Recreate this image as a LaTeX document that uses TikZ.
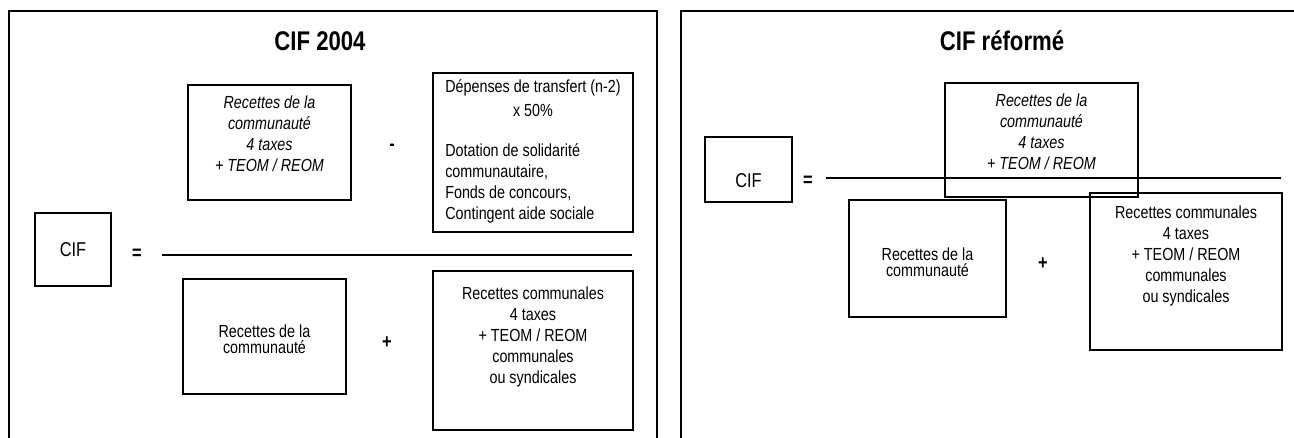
\documentclass[tikz,border=0pt]{standalone}
\usepackage{fontspec}
\setmainfont{Liberation Sans}[FakeStretch=0.82]
\usetikzlibrary{positioning}

\tikzset{
  frame/.style={line width=1.5pt},
  box/.style={draw, line width=1.5pt, inner sep=0pt},
  txt/.style={align=center, inner sep=0pt, font=\fontsize{17.5}{21}\selectfont},
  itxt/.style={align=center, inner sep=0pt, font=\fontsize{17.5}{21}\selectfont\itshape},
  tight/.style={align=center, inner sep=0pt, font=\fontsize{17.5}{16.5}\selectfont},
  ciftxt/.style={inner sep=0pt, font=\fontsize{20}{22}\selectfont},
  sign/.style={inner sep=0pt, font=\fontsize{20}{22}\selectfont\bfseries},
  title/.style={inner sep=0pt, font=\fontsize{27}{30}\selectfont\bfseries},
  bar/.style={line width=2.5pt},
}
\newcommand{\ctr}[1]{\multicolumn{1}{@{}c@{}}{#1}}

\begin{document}
\begin{tikzpicture}[x=1pt,y=-1pt]
        \useasboundingbox (0,0) rectangle (1294,437);
        %\draw[very thin,gray,step=50] (0,0) grid (1294,437) ;
        \draw[frame] (9,445) -- (9,11) -- (657,11) -- (657,445) ;
        \draw[frame] (681,445) -- (681,11) -- (1300,11) ;

        % CIF 2004
        \node[title] (ta) at (320,41) {CIF 2004} ;
        \node[box,ciftxt,minimum width=76pt,minimum height=73pt] (cifa) at (73,249.5) {CIF} ;
        \node[sign] (eqa) at (137,254) {=} ;
        \coordinate (bara) at (162,255) ;
        \coordinate (barb) at (632,255) ;
        \draw[bar] (bara) -- (barb) ;
        \node[box,minimum width=163pt,minimum height=115pt] (comma) at (269.5,142.5) {} ;
        \node[itxt] (commat) at (269.5,133.5) {Recettes de la\\communauté\\4 taxes\\+ TEOM / REOM} ;
        \node[sign] (minus) at (392,147) {-} ;
        \node[box,minimum width=200pt,minimum height=159pt] (depa) at (533,152.5) {} ;
        \node[txt] (depat) at (533,151.5)
          {\begin{tabular}{@{}l@{}}
             \ctr{Dépenses de transfert (n-2)}\\[3pt]
             \ctr{x 50\%}\\[19pt]
             Dotation de solidarité\\
             communautaire,\\
             Fonds de concours,\\
             Contingent aide sociale
           \end{tabular}} ;
        \node[box,minimum width=163pt,minimum height=115pt] (commb) at (264.5,336.5) {} ;
        \node[tight] (commbt) at (264.5,339) {Recettes de la\\communauté} ;
        \node[sign] (plusa) at (387,343) {+} ;
        \node[box,minimum width=200pt,minimum height=159pt] (coma) at (533,350.5) {} ;
        \node[txt] (comat) at (533,336.5)
          {Recettes communales\\4 taxes\\+ TEOM / REOM\\communales\\ou syndicales} ;

        % CIF reforme
        \node[title] (tb) at (1002,41) {CIF réformé} ;
        \node[box,minimum width=87pt,minimum height=65pt] (cifb) at (748.5,169.5) {} ;
        \node[ciftxt] (cifbt) at (748.5,181) {CIF} ;
        \node[sign] (eqb) at (808,181) {=} ;
        \coordinate (barc) at (826,178) ;
        \coordinate (bard) at (1281,178) ;
        \draw[bar] (barc) -- (bard) ;
        \node[box,minimum width=193pt,minimum height=114pt] (commc) at (1041.5,140) {} ;
        \node[itxt] (commct) at (1041.5,131.5) {Recettes de la\\communauté\\4 taxes\\+ TEOM / REOM} ;
        \node[box,minimum width=157pt,minimum height=117pt] (commd) at (927.5,258.5) {} ;
        \node[tight] (commdt) at (927.5,262) {Recettes de la\\communauté} ;
        \node[sign] (plusb) at (1043,264) {+} ;
        \node[box,minimum width=192pt,minimum height=157pt] (comb) at (1186,271.5) {} ;
        \node[txt] (combt) at (1186,256)
          {Recettes communales\\4 taxes\\+ TEOM / REOM\\communales\\ou syndicales} ;
\end{tikzpicture}
\end{document}
